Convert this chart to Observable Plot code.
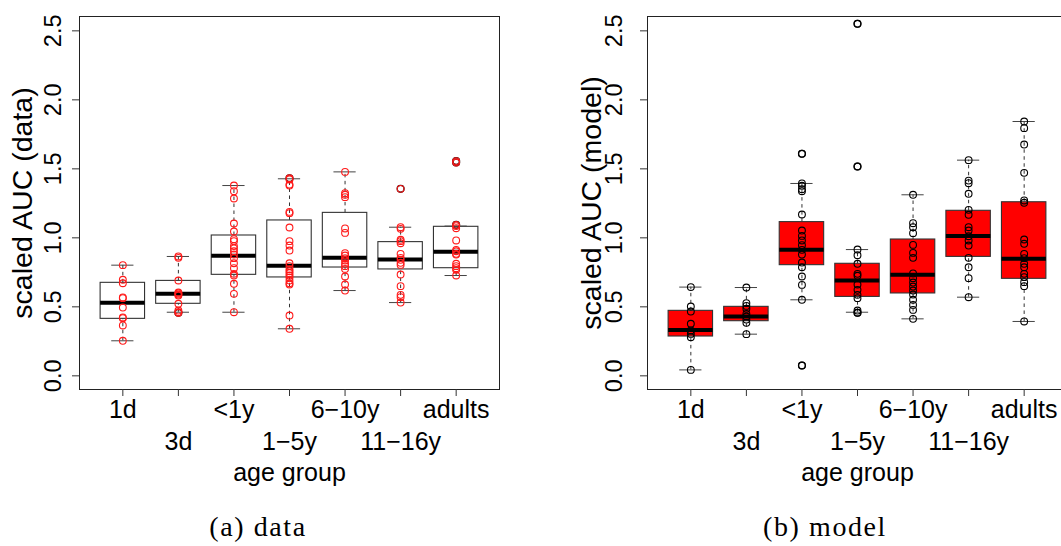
<!DOCTYPE html>
<html><head><meta charset="utf-8">
<script src="https://cdn.jsdelivr.net/npm/d3@7"></script>
<script src="https://cdn.jsdelivr.net/npm/@observablehq/plot@0.6"></script>
<style>
body{margin:0;background:#fff}
#wrap{position:relative;width:1061px;height:546px;overflow:hidden;background:#fff}
.panel{position:absolute;top:0}
.cap{position:absolute;top:511px;width:300px;text-align:center;font-family:"Liberation Serif","Times New Roman",serif;font-size:28px;letter-spacing:1.6px;color:#000;line-height:32px}
</style></head><body><div id="wrap"></div>
<script>
// ---- categories / tick labels ----
const categories = ["1d", "3d", "<1y", "1\u22125y", "6\u221210y", "11\u221216y", "adults"];
const yTicks = [0, 0.5, 1.0, 1.5, 2.0, 2.5];

// ---- panel (a): data ----
const data1d   = [0.802, 0.696, 0.671, 0.568, 0.563, 0.495, 0.423, 0.418, 0.365, 0.254];
const data3d   = [0.865, 0.855, 0.691, 0.604, 0.597, 0.589, 0.582, 0.522, 0.473, 0.461, 0.457];
const dataLt1y = [1.379, 1.338, 1.285, 1.104, 1.046, 0.990, 0.976, 0.940, 0.923, 0.903, 0.879, 0.853, 0.816, 0.780, 0.739, 0.727, 0.667, 0.594, 0.461];
const data1_5  = [1.432, 1.423, 1.386, 1.379, 1.188, 1.179, 1.075, 0.976, 0.944, 0.908, 0.816, 0.795, 0.773, 0.758, 0.744, 0.727, 0.713, 0.691, 0.671, 0.662, 0.437, 0.341];
const data6_10 = [1.478, 1.324, 1.312, 1.295, 1.068, 1.036, 0.889, 0.872, 0.853, 0.836, 0.812, 0.795, 0.775, 0.720, 0.662, 0.618];
const data11_16= [1.355, 1.077, 1.065, 0.986, 0.976, 0.961, 0.884, 0.855, 0.841, 0.819, 0.804, 0.734, 0.650, 0.587, 0.570, 0.531];
const dataAdult= [1.556, 1.546, 1.094, 1.085, 1.070, 0.981, 0.913, 0.903, 0.884, 0.879, 0.812, 0.795, 0.780, 0.768, 0.727];
// box statistics
const dataQ1  = [0.413, 0.522, 0.732, 0.713, 0.785, 0.771, 0.780];
const dataMed = [0.529, 0.594, 0.870, 0.797, 0.855, 0.843, 0.899];
const dataQ3  = [0.674, 0.688, 1.017, 1.126, 1.181, 0.969, 1.080];
const dataLo  = [0.254, 0.461, 0.461, 0.341, 0.618, 0.531, 0.727];
const dataHi  = [0.802, 0.865, 1.379, 1.428, 1.478, 1.077, 1.085];

// ---- panel (b): model ----
const model1d   = [0.643, 0.502, 0.466, 0.377, 0.329, 0.304, 0.280, 0.043];
const model3d   = [0.640, 0.527, 0.507, 0.486, 0.449, 0.430, 0.408, 0.384, 0.302];
const modelLt1y = [1.609, 1.394, 1.377, 1.353, 1.338, 1.169, 1.053, 1.014, 0.981, 0.947, 0.913, 0.879, 0.821, 0.787, 0.720, 0.659, 0.551, 0.075];
const model1_5  = [2.551, 1.517, 0.915, 0.874, 0.812, 0.739, 0.725, 0.662, 0.623, 0.587, 0.563, 0.473, 0.457];
const model6_10 = [1.312, 1.106, 1.077, 1.034, 0.949, 0.891, 0.855, 0.742, 0.708, 0.676, 0.647, 0.618, 0.589, 0.551, 0.514, 0.478, 0.413];
const model11_16= [1.563, 1.415, 1.396, 1.319, 1.203, 1.167, 1.077, 1.053, 1.012, 0.981, 0.944, 0.855, 0.787, 0.708, 0.570];
const modelAdult= [1.843, 1.795, 1.676, 1.471, 1.271, 1.254, 0.988, 0.957, 0.884, 0.853, 0.812, 0.787, 0.739, 0.715, 0.679, 0.650, 0.394];
const modelQ1  = [0.285, 0.396, 0.802, 0.572, 0.597, 0.862, 0.703];
const modelMed = [0.333, 0.430, 0.913, 0.691, 0.732, 1.014, 0.848];
const modelQ3  = [0.471, 0.500, 1.114, 0.812, 0.988, 1.196, 1.258];
const modelLo  = [0.043, 0.302, 0.551, 0.461, 0.413, 0.570, 0.394];
const modelHi  = [0.643, 0.640, 1.394, 0.915, 1.312, 1.563, 1.843];

const font = '"Liberation Sans", Arial, Helvetica, sans-serif';
const fmt = d3.format(".1f");

function panel(groups, q1, med, q3, lo, hi, o) {
  const pts = groups.flatMap((vals, k) => vals.map(v => ({i: k + 1, v})));
  const boxes = categories.map((c, k) => ({i: k + 1, c, q1: q1[k], med: med[k], q3: q3[k], lo: lo[k], hi: hi[k]}));
  const outl = pts.filter(p => p.v > boxes[p.i - 1].hi + 1e-6 || p.v < boxes[p.i - 1].lo - 1e-6);
  const odd = boxes.filter(b => b.i % 2 === 1), even = boxes.filter(b => b.i % 2 === 0);
  const idx = boxes.map(b => b.i);
  return Plot.plot({
    width: 530, height: 500,
    marginTop: 16, marginBottom: 111, marginLeft: 79, marginRight: 31,
    style: {fontFamily: font, background: "transparent", overflow: "visible", color: "#000"},
    x: {domain: [0.22, 7.78], axis: null},
    y: {domain: [-0.099, 2.604], axis: null},
    marks: [
      Plot.ruleX(boxes, {x: "i", y1: "q3", y2: "hi", stroke: "#333", strokeDasharray: "3.5,3.5"}),
      Plot.ruleX(boxes, {x: "i", y1: "lo", y2: "q1", stroke: "#333", strokeDasharray: "3.5,3.5"}),
      Plot.ruleY(boxes, {y: "hi", x1: d => d.i - 0.2, x2: d => d.i + 0.2, stroke: "#444"}),
      Plot.ruleY(boxes, {y: "lo", x1: d => d.i - 0.2, x2: d => d.i + 0.2, stroke: "#444"}),
      Plot.rect(boxes, {x1: d => d.i - 0.4, x2: d => d.i + 0.4, y1: "q1", y2: "q3", fill: o.boxFill, stroke: "#333", strokeWidth: 1.1}),
      Plot.ruleY(boxes, {y: "med", x1: d => d.i - 0.4, x2: d => d.i + 0.4, stroke: "#000", strokeWidth: 4}),
      Plot.dot(outl, {x: "i", y: "v", r: 3.4, stroke: "#000", strokeWidth: 1.3}),
      Plot.dot(pts, {x: "i", y: "v", r: 3.4, stroke: o.pointColor, strokeWidth: 1.1}),
      Plot.frame({stroke: "#222"}),
      Plot.axisX({ticks: idx, tickSize: 7, fill: "none", stroke: "#333", label: null}),
      Plot.axisY({ticks: yTicks, tickSize: 7, fill: "none", stroke: "#333", label: null}),
      Plot.text(odd, {x: "i", text: "c", frameAnchor: "bottom", lineAnchor: "top", dy: 10.5, fontSize: 25, fill: "#000"}),
      Plot.text(even, {x: "i", text: "c", frameAnchor: "bottom", lineAnchor: "top", dy: 42.5, fontSize: 25, fill: "#000"}),
      Plot.text(["age group"], {frameAnchor: "bottom", lineAnchor: "top", dy: 74, fontSize: 25, fill: "#000"}),
      Plot.text(yTicks, {y: d => d, text: d => fmt(d), frameAnchor: "left", dx: o.tickDx, rotate: -90, textAnchor: "middle", lineAnchor: "middle", fontSize: 23.5, fill: "#000"}),
      Plot.text([o.ylabel], {frameAnchor: "left", dx: o.labelDx, rotate: -90, textAnchor: "middle", lineAnchor: "middle", fontSize: 28.5, fill: "#000"})
    ]
  });
}

const wrap = document.getElementById("wrap");
const left = panel([data1d, data3d, dataLt1y, data1_5, data6_10, data11_16, dataAdult],
  dataQ1, dataMed, dataQ3, dataLo, dataHi,
  {boxFill: "#fff", pointColor: "#ff1a1a", ylabel: "scaled AUC (data)", tickDx: -25.7, labelDx: -57});
left.classList.add("panel"); left.style.left = "0px";
wrap.appendChild(left);

const right = panel([model1d, model3d, modelLt1y, model1_5, model6_10, model11_16, modelAdult],
  modelQ1, modelMed, modelQ3, modelLo, modelHi,
  {boxFill: "#ff0000", pointColor: "#000", ylabel: "scaled AUC (model)", tickDx: -32.6, labelDx: -56});
right.classList.add("panel"); right.style.left = "568px";
wrap.appendChild(right);

const capA = document.createElement("div");
capA.className = "cap"; capA.textContent = "(a) data"; capA.style.left = (258 - 150) + "px";
wrap.appendChild(capA);
const capB = document.createElement("div");
capB.className = "cap"; capB.textContent = "(b) model"; capB.style.left = (825 - 150) + "px";
wrap.appendChild(capB);
</script></body></html>
